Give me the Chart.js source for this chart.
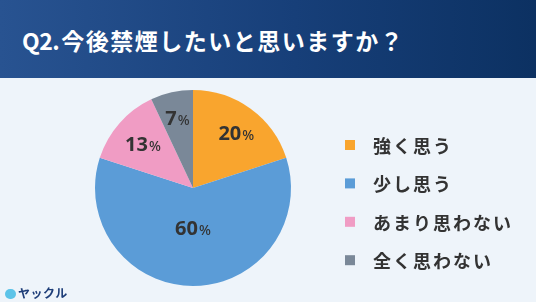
<!DOCTYPE html>
<html lang="ja">
<head>
<meta charset="utf-8">
<script src="https://cdn.jsdelivr.net/npm/chart.js@4.4.1/dist/chart.umd.min.js"></script>
<style>
  html, body { margin: 0; padding: 0; }
  body { width: 536px; height: 302px; background: #eef4fa; position: relative; overflow: hidden; }
  #kopf {
    height: 78px;
    background: linear-gradient(90deg, #285391 0%, #173f79 55%, #0c3162 100%);
    color: #fff;
    font-family: "Noto Sans CJK JP", "Noto Sans", sans-serif;
    font-weight: 700;
    font-size: 23px;
    letter-spacing: 1.5px;
    line-height: 80px;
    padding-left: 22px;
    box-sizing: border-box;
  }
  #kopf span { letter-spacing: -0.5px; margin-right: 2px; }
  #diagramm { position: absolute; left: 0; top: 78px; width: 536px; height: 224px; }
  #logo {
    position: absolute; left: 5px; top: 285px;
    font-family: "Noto Sans CJK JP", sans-serif; font-weight: 700; font-size: 12px;
    color: #1d3d78; line-height: 16px; letter-spacing: 0.5px;
  }
  #logo span.eule {
    display: inline-block; width: 11px; height: 10px; border-radius: 5px;
    background: #5cc3e8; vertical-align: -1px; margin-right: 2px;
  }
</style>
</head>
<body>
<div id="kopf"><span>Q2.</span>今後禁煙したいと思いますか？</div>
<div id="diagramm"><canvas id="Rauchen"></canvas></div>
<div id="logo"><span class="eule"></span>ヤックル</div>
<script>
const antworten = ["強く思う", "少し思う", "あまり思わない", "全く思わない"];
const anteile = [20, 60, 13, 7];
const farben = ["#f9a52e", "#5b9cd7", "#f09cc4", "#7a8898"];

// Abstand der Prozentzahl vom Mittelpunkt (Anteil des Radius)
const labelAbstand = [0.7, 0.41, 0.68, 0.73];

const prozentLabels = {
    id: "prozentLabels",
    afterDatasetsDraw(chart) {
        const ctx = chart.ctx;
        const arcs = chart.getDatasetMeta(0).data;
        ctx.save();
        ctx.fillStyle = "#333333";
        ctx.textBaseline = "alphabetic";
        ctx.textAlign = "left";
        arcs.forEach((arc, i) => {
            const p = arc.getProps(["x", "y", "startAngle", "endAngle", "outerRadius"], true);
            const mitte = (p.startAngle + p.endAngle) / 2;
            const r = p.outerRadius * labelAbstand[i];
            const x = p.x + Math.cos(mitte) * r + (i === 0 ? 3 : 0);
            const y = p.y + Math.sin(mitte) * r;
            const zahl = String(chart.data.datasets[0].data[i]);
            ctx.font = "700 20px 'Noto Sans', sans-serif";
            const bZahl = ctx.measureText(zahl).width;
            ctx.font = "500 14px 'Noto Sans', sans-serif";
            const bProzent = ctx.measureText("%").width;
            const start = x - (bZahl + 1 + bProzent) / 2;
            ctx.font = "700 20px 'Noto Sans', sans-serif";
            ctx.fillText(zahl, start, y + 7);
            ctx.font = "500 14px 'Noto Sans', sans-serif";
            ctx.fillText("%", start + bZahl + 1, y + 7);
        });
        ctx.restore();
    },
};

const legende = {
    id: "legende",
    afterDraw(chart) {
        const ctx = chart.ctx;
        ctx.save();
        ctx.textBaseline = "middle";
        ctx.font = "700 18px 'Noto Sans CJK JP', sans-serif";
        ctx.letterSpacing = "2px";
        chart.data.labels.forEach((text, i) => {
            const y = 67 + i * 38.4;
            ctx.fillStyle = chart.data.datasets[0].backgroundColor[i];
            ctx.fillRect(345, y - 5, 10, 10);
            ctx.fillStyle = "#333333";
            ctx.fillText(text, 373, y + 1);
        });
        ctx.restore();
    },
};

new Chart(document.getElementById("Rauchen"), {
    type: "pie",
    data: {
        labels: antworten,
        datasets: [
            {
                data: anteile,
                backgroundColor: farben,
                borderWidth: 0,
            },
        ],
    },
    options: {
        responsive: true,
        maintainAspectRatio: false,
        animation: false,
        layout: {
            padding: { top: 12, bottom: 16, left: 95, right: 245 },
        },
        plugins: {
            legend: { display: false },
            tooltip: { enabled: false },
        },
    },
    plugins: [prozentLabels, legende],
});
</script>
</body>
</html>
